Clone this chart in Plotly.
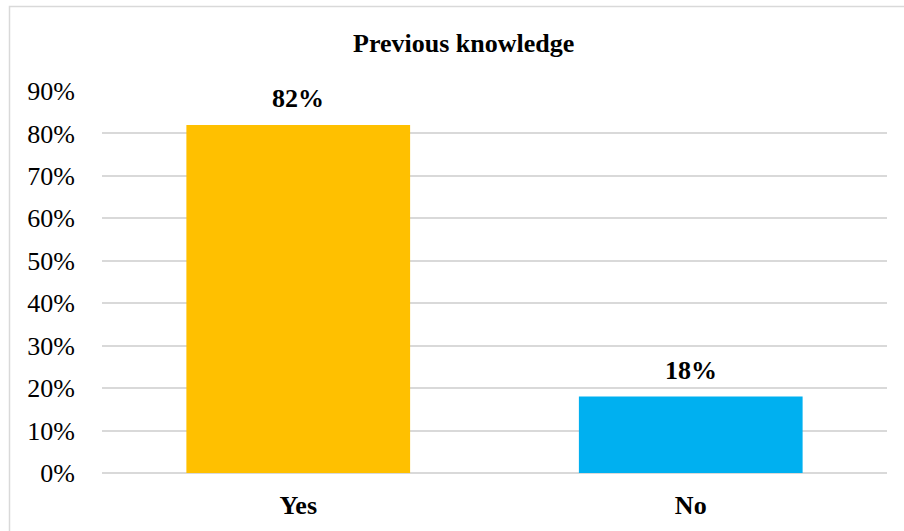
import plotly.graph_objects as go

categories = ["Yes", "No"]
shares = [0.82, 0.18]
bar_colors = ["#FFC000", "#00B0F0"]
tick_values = [0, 0.1, 0.2, 0.3, 0.4, 0.5, 0.6, 0.7, 0.8, 0.9]
tick_labels = ["0%", "10%", "20%", "30%", "40%", "50%", "60%", "70%", "80%", "90%"]

W, H = 904, 531
L, R, T, B = 102, 17, 91, 58
pw, ph = W - L - R, H - T - B

serif = "Liberation Serif"

fig = go.Figure(
    go.Bar(
        x=categories,
        y=shares,
        marker=dict(color=bar_colors, line=dict(width=0)),
        width=0.57,
        hoverinfo="skip",
    )
)

# value labels above each bar
for c, v in zip(categories, shares):
    fig.add_annotation(
        x=c, y=v, xref="x", yref="y",
        text=f"<b>{round(v * 100)}%</b>",
        showarrow=False, yanchor="bottom", yshift=10,
        font=dict(family=serif, size=26, color="#000000"),
    )

# chart title
fig.add_annotation(
    x=(463 - L) / pw, y=(H - 44 - B) / ph, xref="paper", yref="paper",
    text="<b>Previous knowledge</b>", showarrow=False,
    xanchor="center", yanchor="middle",
    font=dict(family=serif, size=26, color="#000000"),
)

# outer chart frame
fig.add_shape(
    type="rect", xref="paper", yref="paper",
    x0=(9.5 - L) / pw, x1=(W + 5 - L) / pw,
    y0=(H - 6.5 - B) / ph, y1=-(B + 5) / ph,
    line=dict(color="#d9d9d9", width=1.5), fillcolor="rgba(0,0,0,0)",
    layer="below",
)

fig.update_layout(
    width=W, height=H,
    margin=dict(l=L, r=R, t=T, b=B),
    paper_bgcolor="white", plot_bgcolor="white",
    showlegend=False,
    bargap=0.43,
    xaxis=dict(
        showgrid=False, showline=False, zeroline=False,
        tickfont=dict(family=serif, size=26, color="#000000"),
        ticklabelstandoff=14,
        tickvals=categories,
        ticktext=[f"<b>{c}</b>" for c in categories],
    ),
    yaxis=dict(
        range=[0, 0.9],
        tickvals=tick_values, ticktext=tick_labels,
        showgrid=True, gridcolor="#d9d9d9", gridwidth=1.5,
        zeroline=True, zerolinecolor="#d9d9d9", zerolinewidth=1.5,
        showline=False,
        tickfont=dict(family=serif, size=26, color="#000000"),
        ticklabelstandoff=26,
    ),
)

fig.write_html("out.html")
